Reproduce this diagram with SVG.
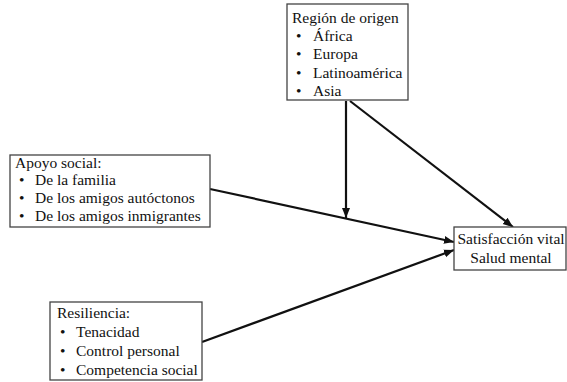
<svg xmlns="http://www.w3.org/2000/svg" width="567" height="382" viewBox="0 0 567 382">
<style>
.box{fill:#fff;stroke:#444;stroke-width:1.3}
text{font-family:"Liberation Serif","Times New Roman",serif;font-size:15.5px;fill:#111}
.c{stroke:#111;stroke-width:2.2;fill:none}
</style>
<defs>
<marker id="a" viewBox="0 0 10 10" refX="10" refY="5" markerWidth="10" markerHeight="10" orient="auto" markerUnits="userSpaceOnUse">
<path d="M0,1 L10,5 L0,9 z" fill="#111"/>
</marker>
</defs>
<rect width="567" height="382" fill="#fff"/>
<g id="connectors">
<line class="c" x1="346" y1="101" x2="346" y2="218" marker-end="url(#a)"/>
<line class="c" x1="350" y1="101" x2="513" y2="227" marker-end="url(#a)"/>
<line class="c" x1="210" y1="189" x2="454" y2="242" marker-end="url(#a)"/>
<line class="c" x1="202" y1="342" x2="454" y2="250" marker-end="url(#a)"/>
</g>
<g id="region">
<rect class="box" x="287" y="4" width="121" height="96"/>
<text x="292" y="23">Región de origen</text>
<text x="296" y="41">•</text><text x="313" y="41">África</text>
<text x="296" y="59">•</text><text x="313" y="59">Europa</text>
<text x="296" y="78">•</text><text x="313" y="78">Latinoamérica</text>
<text x="296" y="96">•</text><text x="313" y="96">Asia</text>
</g>
<g id="apoyo">
<rect class="box" x="10" y="155" width="200" height="72"/>
<text x="15" y="168">Apoyo social:</text>
<text x="19" y="185">•</text><text x="35" y="185">De la familia</text>
<text x="19" y="203">•</text><text x="35" y="203">De los amigos autóctonos</text>
<text x="19" y="221">•</text><text x="35" y="221">De los amigos inmigrantes</text>
</g>
<g id="resiliencia">
<rect class="box" x="50" y="302" width="152" height="78"/>
<text x="57" y="318">Resiliencia:</text>
<text x="60" y="337">•</text><text x="76" y="337">Tenacidad</text>
<text x="60" y="356">•</text><text x="76" y="356">Control personal</text>
<text x="60" y="375">•</text><text x="76" y="375">Competencia social</text>
</g>
<g id="resultado">
<rect class="box" x="454" y="227" width="112" height="43"/>
<text x="511" y="244" text-anchor="middle">Satisfacción vital</text>
<text x="511" y="263" text-anchor="middle">Salud mental</text>
</g>
</svg>
